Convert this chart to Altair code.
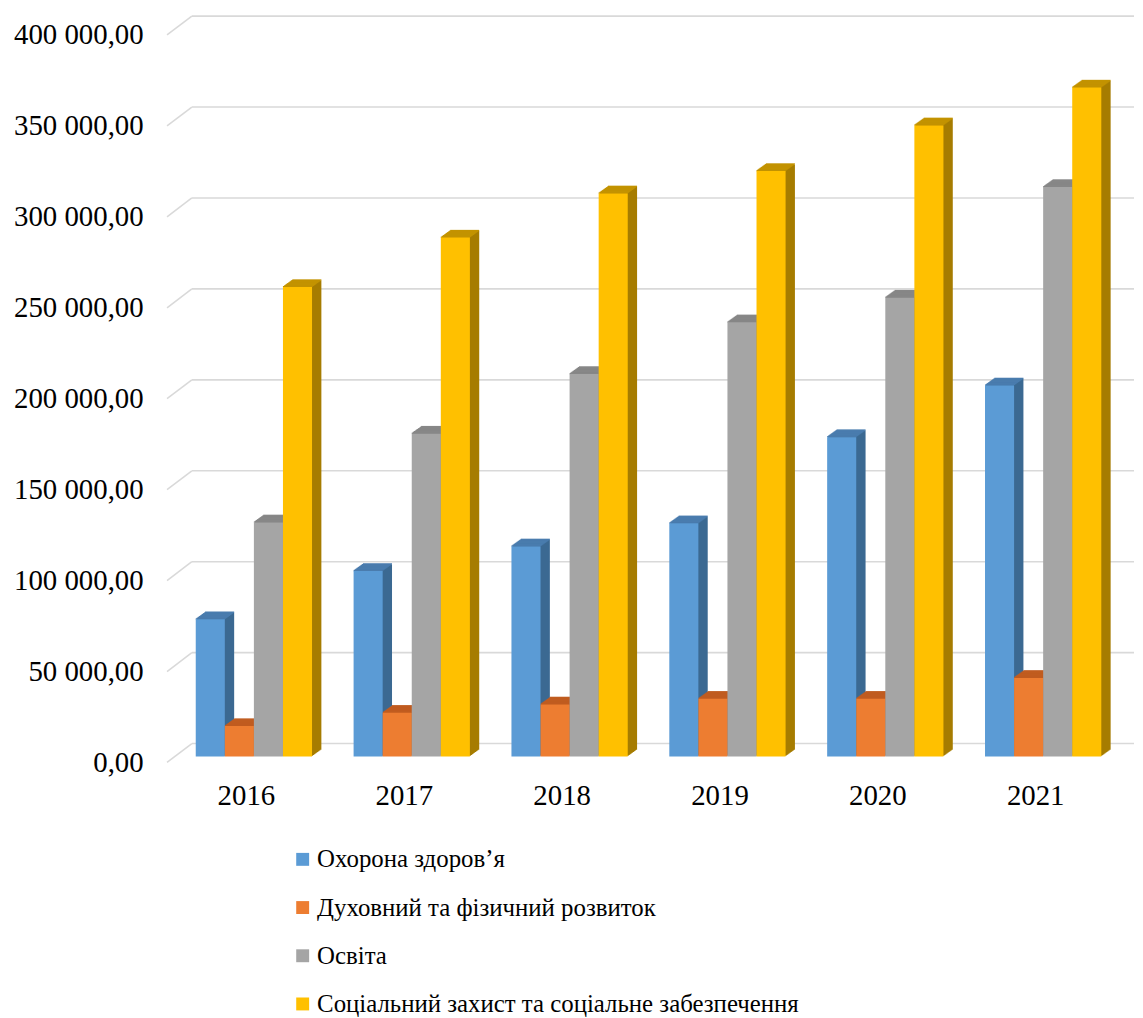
import altair as alt
import pandas as pd

# ---- data ----
years = ["2016", "2017", "2018", "2019", "2020", "2021"]
series = [
    "Охорона здоров’я",
    "Духовний та фізичний розвиток",
    "Освіта",
    "Соціальний захист та соціальне забезпечення",
]
health = [75400, 102000, 115500, 128200, 175600, 204000]
culture = [16700, 24000, 28600, 31700, 31700, 43200]
education = [128700, 177500, 210300, 238700, 252300, 313100]
social = [258100, 285300, 309600, 321900, 347000, 367800]
y_ticks = [0, 50000, 100000, 150000, 200000, 250000, 300000, 350000, 400000]

front_colors = ["#5B9BD5", "#ED7D31", "#A5A5A5", "#FFC000"]
side_colors = ["#3B6992", "#AE5A21", "#7C7C7C", "#A67C00"]
top_colors = ["#4A7CAE", "#C05C20", "#878787", "#C39300"]

values = [health, culture, education, social]
rows = []
for si, (name, vals) in enumerate(zip(series, values)):
    for yi, (yr, v) in enumerate(zip(years, vals)):
        rows.append({"year": yr, "yi": yi, "series": name, "si": si, "value": v})
df = pd.DataFrame(rows)
grid_df = pd.DataFrame({"v": y_ticks})

# ---- layout constants ----
W, H = 953, 732
G = 5.43            # group step in bar widths
FONT = "Liberation Serif"
DX, DY = 9.4, -6.7  # 3D depth of a bar
BX, BY = 8, -6      # bars sit a bit behind the front plane
N = 9

xscale = alt.Scale(domain=[2 - G / 2, 5 * G + 2 + G / 2], nice=False, zero=False)
yscale = alt.Scale(domain=[0, 400000], nice=False)

year_arr = "[" + ",".join("'%s'" % y for y in years) + "]"
xaxis = alt.Axis(
    values=[i * G + 2 for i in range(len(years))],
    labelExpr=f"{year_arr}[round((datum.value - 2) / {G})]",
    domain=False, ticks=False, grid=False, title=None,
    labelFont=FONT, labelFontSize=29, labelColor="black", labelPadding=19,
)
yaxis = alt.Axis(
    values=y_ticks,
    labelExpr="replace(replace(format(datum.value, ',.2f'), regexp(',', 'g'), ' '), '.', ',')",
    domain=False, ticks=False, grid=False, title=None,
    labelFont=FONT, labelFontSize=29, labelColor="black", labelPadding=24,
)

def base(filter_si=None):
    c = alt.Chart(df).transform_calculate(
        x0=f"datum.yi * {G} + datum.si", x1=f"datum.yi * {G} + datum.si + 1"
    )
    if filter_si is not None:
        c = c.transform_filter(alt.datum.si == filter_si)
    return c

X = alt.X("x0:Q", scale=xscale, axis=xaxis)
Y = alt.Y("value:Q", scale=yscale, axis=yaxis)

layers = []

# back-wall gridlines and the short 3D diagonals
layers.append(
    alt.Chart(grid_df).mark_rule(color="#D9D9D9", strokeWidth=1.6, yOffset=-19, y2Offset=-19).encode(
        y=alt.Y("v:Q", scale=yscale, axis=yaxis), y2="v:Q",
        x=alt.value(25), x2=alt.value(W + 20),
    )
)
layers.append(
    alt.Chart(grid_df).mark_rule(color="#D9D9D9", strokeWidth=1.6, y2Offset=-19).encode(
        y=alt.Y("v:Q", scale=yscale, axis=yaxis), y2="v:Q",
        x=alt.value(0), x2=alt.value(25),
    )
)

# 3D sweeps (side + top faces), series by series
for s in range(len(series)):
    for k in range(1, N + 1):
        ox = BX + k * DX / N
        oy = BY + k * DY / N
        layers.append(
            base(s).mark_bar(color=side_colors[s], xOffset=ox, x2Offset=ox, yOffset=oy, y2Offset=oy).encode(
                x=X, x2="x1:Q", y=Y, y2=alt.datum(0),
            )
        )
    for k in range(0, N + 1):
        ox = BX + k * DX / N
        oy = BY + k * DY / N
        layers.append(
            base(s).mark_bar(color=top_colors[s], xOffset=ox, x2Offset=ox, yOffset=oy - 1.1, y2Offset=oy + 0.3).encode(
                x=X, x2="x1:Q", y=Y, y2="value:Q",
            )
        )

# front faces
layers.append(
    base().mark_bar(xOffset=BX, x2Offset=BX, yOffset=BY, y2Offset=BY).encode(
        x=X, x2="x1:Q", y=Y, y2=alt.datum(0),
        color=alt.Color(
            "series:N",
            scale=alt.Scale(domain=series, range=front_colors),
            legend=alt.Legend(
                orient="none", legendX=124, legendY=817, direction="vertical", title=None,
                symbolType="square", symbolSize=169, symbolStrokeWidth=0,
                labelFont=FONT, labelFontSize=25, labelColor="black", labelLimit=0,
                labelOffset=2, rowPadding=22.5, padding=0,
            ),
        ),
    )
)

chart = alt.layer(*layers).properties(
    width=W, height=H,
    padding={"left": 5, "top": 4, "right": 0, "bottom": 0},
    background="white",
).configure_view(stroke=None)

chart.save("out.html", embed_options={"renderer": "svg", "actions": False})
